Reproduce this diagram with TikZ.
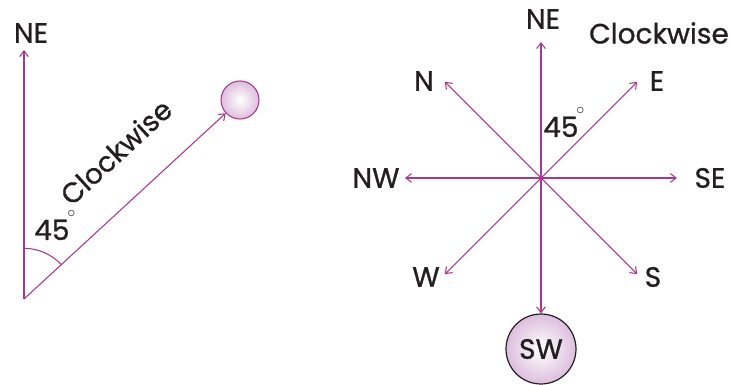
\documentclass[tikz,border=0pt]{standalone}
\usepackage{fontspec}
\setmainfont{Poppins}[FakeBold=0.9]
\usetikzlibrary{arrows.meta,angles}
\definecolor{rayc}{HTML}{A8388F}
\definecolor{ballc}{HTML}{DDBEDD}
\definecolor{inkc}{HTML}{231F20}
\newcommand{\degmark}{\kern-1.5pt\raisebox{1.45ex}{\fontsize{13}{13}\selectfont$\circ$}}
\tikzset{
  ray/.style   = {-{Straight Barb[length=1.5mm,width=2.3mm]}, draw=rayc,
                  line width=0.8pt},
  lbl/.style   = {font=\fontsize{21}{24}\selectfont, text=inkc, inner sep=0pt},
  ball/.style  = {circle, inner color=white, outer color=ballc, inner sep=0pt},
  arcmark/.style = {draw=rayc, line width=0.8pt, angle radius=38pt},
}
\begin{document}
\begin{tikzpicture}[x=0.75pt, y=0.75pt]
  \useasboundingbox (0,0) rectangle (731,385);

  % ---- left: one turn of 45 degrees -------------------------------------
  \coordinate (o1) at (24,86);
  \coordinate (top1) at (24,335);
  \node[ball, draw=rayc, line width=0.8pt, minimum size=28.5pt] (tball) at (240,285) {};
  \node[lbl] (ne1) at (31,352) {NE};

  \draw[ray] (o1) -- (top1);
  \draw[ray] (o1) -- node[lbl, sloped, above=26pt, pos=0.61] (cw1) {Clockwise} (tball);
  \pic[arcmark] {angle = tball--o1--top1};
  \node[lbl, anchor=base west] (deg1) at (34,145) {45\degmark};

  % ---- right: the eight directions -------------------------------------
  \coordinate (c) at (541,207);
  \foreach \ang/\nm in {90/ne, 135/n, 45/e, 180/nw, 0/se, 225/w, -45/s}
    \draw[ray] (c) -- ++(\ang:136) coordinate (tip-\nm);
  \node[ball, draw=inkc, line width=0.9pt, minimum size=52.5pt] (sw) at (541,36) {};
  \node[lbl] at (sw) {SW};
  \draw[ray] (c) -- (sw);

  \node[lbl] (lne) at (543,366) {NE};
  \node[lbl] (ln)  at (424,304) {N};
  \node[lbl] (le)  at (657,304) {E};
  \node[lbl] (lnw) at (376,207) {NW};
  \node[lbl] (lse) at (710,207) {SE};
  \node[lbl] (lw)  at (426,108) {W};
  \node[lbl] (ls)  at (653,108) {S};
  \node[lbl, anchor=base west] (deg2) at (543,248) {45\degmark};
  \node[lbl] (cw2) at (659,352) {Clockwise};

\end{tikzpicture}
\end{document}
